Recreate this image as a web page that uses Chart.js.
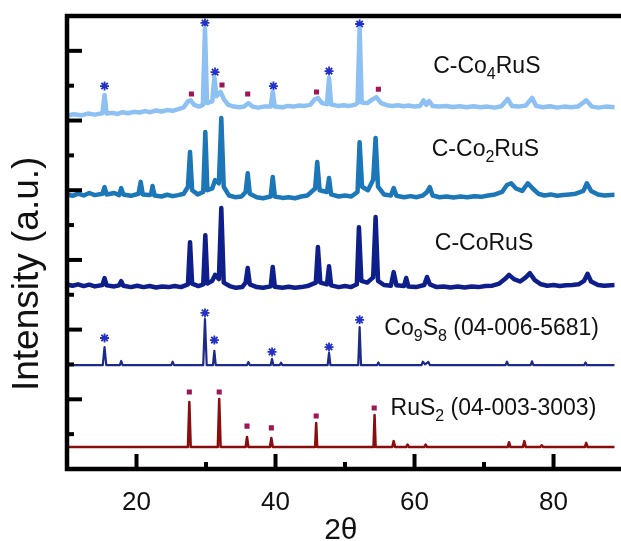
<!DOCTYPE html>
<html>
<head>
<meta charset="utf-8">
<script src="https://cdn.jsdelivr.net/npm/chart.js@4.4.1/dist/chart.umd.min.js"></script>
<style>
  html, body { margin: 0; padding: 0; background: #fff; }
  canvas { display: block; }
</style>
</head>
<body>
<canvas id="xrd" width="621" height="541"></canvas>
<script>
// 2theta / intensity pairs
const co4RuS = [[10,10.14],[11,10.18],[12,10.15],[13,10.2],[14,10.17],[15.1,10.21],[15.4,10.73],[15.7,10.2],[16.5,10.22],[17.3,10.19],[18,10.24],[18.8,10.21],[19.6,10.25],[20.4,10.23],[21.2,10.27],[22,10.24],[22.8,10.29],[23.6,10.26],[24.4,10.3],[25.2,10.28],[26,10.33],[26.8,10.38],[27.4,10.55],[27.8,10.58],[28.3,10.45],[29,10.4],[29.55,10.45],[29.85,12.65],[30.15,10.5],[30.9,10.55],[31.2,11.25],[31.5,10.7],[32.1,10.82],[32.6,10.6],[33.2,10.45],[34,10.4],[34.8,10.38],[35.5,10.4],[36.1,10.5],[36.7,10.4],[37.5,10.37],[38.3,10.4],[39.3,10.4],[39.6,10.82],[39.9,10.4],[41,10.38],[41.8,10.42],[42.6,10.4],[43.4,10.43],[44.2,10.42],[45,10.45],[45.6,10.6],[46.1,10.65],[46.7,10.5],[47.4,10.47],[47.7,11.22],[48.0,10.46],[49,10.42],[49.8,10.44],[50.6,10.42],[51.4,10.45],[51.8,10.5],[52.1,12.65],[52.4,10.52],[53.2,10.5],[53.9,10.6],[54.5,10.67],[55.2,10.5],[56,10.44],[56.8,10.42],[57.6,10.44],[58.4,10.41],[59.2,10.43],[60,10.4],[60.8,10.42],[61.3,10.58],[61.7,10.45],[62.1,10.56],[62.6,10.42],[63.5,10.4],[64.5,10.42],[65.5,10.39],[66.5,10.41],[67.5,10.38],[68.5,10.41],[69.5,10.38],[70.5,10.4],[71.5,10.37],[72.5,10.41],[73.4,10.62],[74,10.42],[75,10.4],[76,10.43],[76.9,10.65],[77.5,10.42],[78.5,10.38],[79.5,10.41],[80.5,10.37],[81.5,10.4],[82.5,10.38],[83.5,10.4],[84.7,10.58],[85.5,10.4],[86.5,10.37],[87.5,10.4],[88.8,10.38]];

const co2RuS = [[10,7.88],[10.8,7.84],[11.6,7.9],[12.4,7.85],[13.2,7.92],[14,7.86],[15.1,7.9],[15.4,8.09],[15.7,7.88],[16.8,7.92],[17.5,7.86],[17.8,8.06],[18.1,7.88],[19.2,7.84],[20.3,7.9],[20.6,8.24],[20.9,7.88],[21.8,7.86],[22.1,7.88],[22.3,8.12],[22.6,7.85],[23.6,7.82],[24.4,7.87],[25.2,7.83],[26,7.86],[26.8,7.9],[27.4,8.1],[27.7,9.1],[28.0,8.0],[28.8,7.88],[29.6,7.95],[29.9,9.67],[30.2,8.0],[30.9,8.05],[31.3,8.29],[31.85,8.2],[32.2,10.07],[32.55,8.1],[33.3,7.85],[34.2,7.8],[35.1,7.82],[35.7,7.95],[36.0,8.49],[36.3,7.9],[37.3,7.8],[38.2,7.77],[39.3,7.82],[39.6,8.38],[39.9,7.82],[41,7.78],[41.9,7.8],[42.8,7.77],[43.7,7.82],[44.6,7.85],[45.7,8.05],[46,8.81],[46.35,8.0],[47.4,7.95],[47.7,8.35],[48.0,7.88],[49.1,7.82],[50,7.85],[50.9,7.82],[51.8,7.95],[52.1,9.38],[52.45,8.1],[53.3,8.0],[54.05,8.3],[54.4,9.5],[54.75,8.1],[55.6,7.88],[56.6,7.85],[57,8.06],[57.4,7.84],[58.5,7.8],[59.4,7.83],[60.3,7.8],[61.2,7.85],[61.8,7.95],[62.2,8.09],[62.6,7.85],[63.6,7.8],[64.6,7.82],[65.6,7.79],[66.6,7.82],[67.6,7.8],[68.6,7.83],[69.6,7.81],[70.6,7.85],[71.6,7.88],[72.6,7.95],[73.3,8.15],[73.9,8.2],[74.6,8.05],[75.5,7.98],[76.3,8.2],[77,8.05],[77.8,7.9],[78.7,7.85],[79.6,7.88],[80.5,7.84],[81.4,7.86],[82.3,7.88],[83.2,7.9],[84.3,7.98],[84.8,8.2],[85.4,7.98],[86.4,7.88],[87.3,7.85],[88.8,7.87]];

const coRuS = [[10,5.3],[10.8,5.26],[11.6,5.3],[12.4,5.25],[13.2,5.29],[14,5.24],[15.1,5.28],[15.4,5.48],[15.7,5.27],[16.8,5.24],[17.5,5.27],[17.8,5.39],[18.1,5.26],[19.2,5.22],[20.1,5.26],[21,5.22],[21.9,5.25],[22.8,5.21],[23.7,5.24],[24.6,5.22],[25.5,5.25],[26.4,5.22],[27.4,5.3],[27.7,6.51],[28.0,5.32],[28.9,5.25],[29.6,5.3],[29.9,6.71],[30.2,5.32],[30.9,5.4],[31.3,5.57],[31.85,5.45],[32.2,7.49],[32.55,5.35],[33.4,5.25],[34.3,5.2],[35.2,5.22],[35.7,5.35],[36,5.77],[36.3,5.3],[37.3,5.22],[38.2,5.2],[39.3,5.24],[39.6,5.8],[39.9,5.23],[41,5.2],[41.9,5.23],[42.8,5.2],[43.7,5.22],[44.6,5.25],[45.8,5.35],[46.1,6.37],[46.45,5.35],[47.4,5.3],[47.7,5.82],[48.0,5.27],[49.1,5.22],[50,5.25],[50.9,5.22],[51.7,5.3],[52,6.94],[52.35,5.4],[53.2,5.35],[54.05,5.5],[54.4,7.23],[54.75,5.4],[55.6,5.28],[56.6,5.26],[57,5.65],[57.4,5.27],[58.5,5.25],[58.8,5.48],[59.1,5.24],[60.2,5.22],[61.4,5.28],[61.8,5.51],[62.2,5.3],[63.2,5.22],[64.2,5.24],[65.2,5.21],[66.2,5.24],[67.2,5.21],[68.2,5.24],[69.2,5.22],[70.2,5.25],[71.2,5.26],[72.2,5.32],[73,5.45],[73.6,5.57],[74.3,5.45],[75.2,5.38],[76,5.5],[76.6,5.62],[77.3,5.42],[78.2,5.3],[79.1,5.26],[80,5.28],[80.9,5.25],[81.8,5.27],[82.7,5.28],[83.6,5.3],[84.4,5.4],[84.9,5.6],[85.4,5.38],[86.4,5.28],[87.3,5.26],[88.8,5.28]];

const co9S8Ref = [[10,2.98],[15.15,2.98],[15.4,3.5],[15.65,2.98],[17.6,2.98],[17.8,3.1],[18.0,2.98],[25,2.98],[25.2,3.08],[25.4,2.98],[29.6,2.98],[29.85,4.3],[30.1,2.98],[31.0,2.98],[31.2,3.39],[31.4,2.98],[35.9,2.98],[36.1,3.07],[36.3,2.98],[39.3,2.98],[39.5,3.16],[39.7,2.98],[40.6,2.98],[40.8,3.05],[41,2.98],[47.5,2.98],[47.7,3.33],[47.9,2.98],[51.9,2.98],[52.1,4.07],[52.3,2.98],[54.6,2.98],[54.8,3.06],[55,2.98],[61,2.98],[61.2,3.08],[61.5,3.0],[62,3.07],[62.2,2.98],[73.1,2.98],[73.3,3.08],[73.5,2.98],[76.7,2.98],[76.9,3.09],[77.1,2.98],[84.4,2.98],[84.6,3.06],[84.8,2.98],[88.8,2.98]];

const rus2Ref = [[10,0.63],[27.4,0.63],[27.6,1.92],[27.8,0.63],[31.7,0.63],[31.9,2.01],[32.1,0.63],[35.7,0.63],[35.9,0.92],[36.1,0.63],[39.2,0.63],[39.4,0.89],[39.6,0.63],[45.7,0.63],[45.85,1.32],[46.0,0.63],[54.1,0.63],[54.25,1.55],[54.4,0.63],[56.8,0.63],[57.0,0.8],[57.2,0.63],[58.8,0.63],[59.0,0.7],[59.2,0.63],[61.4,0.63],[61.6,0.7],[61.8,0.63],[73.4,0.63],[73.6,0.77],[73.8,0.63],[75.6,0.63],[75.8,0.8],[76.0,0.63],[78.1,0.63],[78.3,0.68],[78.5,0.63],[84.5,0.63],[84.7,0.75],[84.9,0.63],[88.8,0.63]];

// phase markers (* = Co9S8, square = RuS2)
const co4Stars = [[15.4,10.99],[29.85,12.8],[31.3,11.39],[39.7,10.99],[47.7,11.42],[52.1,12.77]];
const co4Squares = [[27.9,10.76],[32.3,11.02],[36.0,10.76],[45.9,10.82],[54.8,10.9]];
const co9Stars = [[15.4,3.76],[29.85,4.48],[31.2,3.70],[39.5,3.36],[47.7,3.50],[52.1,4.28]];
const rusSquares = [[27.6,2.21],[31.9,2.21],[35.9,1.23],[39.4,1.18],[45.85,1.52],[54.2,1.75]];

const xTickValues = [20, 40, 60, 80];
const xMinorTicks = [30, 50, 70];
const yMajorTicks = [2, 4, 6, 8, 10, 12];
const yMinorTicks = [1, 3, 5, 7, 9, 11];

// trace labels: [x, y, parts]  (parts: [text, isSubscript])
const traceLabels = [
  [70.4, 11.6, [["C-Co", false], ["4", true], ["RuS", false]]],
  [70.2, 9.21, [["C-Co", false], ["2", true], ["RuS", false]]],
  [70.0, 6.51, [["C-CoRuS", false]]],
  [71.1, 4.07, [["Co", false], ["9", true], ["S", false], ["8", true], [" (04-006-5681)", false]]],
  [71.35, 1.78, [["RuS", false], ["2", true], [" (04-003-3003)", false]]]
];
const yTitle = "Intensity (a.u.)";

const FONT = "'Liberation Sans', Arial, sans-serif";

function toPoints(pairs) {
  return pairs.map(([x, y]) => ({ x, y }));
}

function lineSet(pairs, color, width) {
  return {
    type: "line",
    data: toPoints(pairs),
    borderColor: color,
    borderWidth: width,
    pointRadius: 0,
    tension: 0,
    borderJoinStyle: "round",
    fill: false
  };
}

function markerSet(pairs, style, color, radius) {
  return {
    type: "scatter",
    data: toPoints(pairs),
    pointStyle: style,
    pointRadius: radius,
    pointBorderWidth: style === "star" ? 1.8 : 0,
    pointBorderColor: color,
    pointBackgroundColor: color,
    showLine: false
  };
}

const framePlugin = {
  id: "frame",
  afterDatasetsDraw(chart) {
    const { ctx, chartArea } = chart;
    const xs = chart.scales.x;
    const ys = chart.scales.y;
    ctx.save();
    ctx.strokeStyle = "#000";
    ctx.lineWidth = 4.5;
    ctx.lineCap = "square";
    ctx.beginPath();
    ctx.moveTo(chartArea.right + 5, chartArea.top);
    ctx.lineTo(chartArea.left, chartArea.top);
    ctx.lineTo(chartArea.left, chartArea.bottom);
    ctx.lineTo(chartArea.right + 5, chartArea.bottom);
    ctx.stroke();

    ctx.lineWidth = 4;
    ctx.lineCap = "butt";
    const tick = (x1, y1, x2, y2) => {
      ctx.beginPath();
      ctx.moveTo(x1, y1);
      ctx.lineTo(x2, y2);
      ctx.stroke();
    };
    xTickValues.forEach((v) => {
      const px = xs.getPixelForValue(v);
      tick(px, chartArea.bottom, px, chartArea.bottom - 15);
    });
    xMinorTicks.forEach((v) => {
      const px = xs.getPixelForValue(v);
      tick(px, chartArea.bottom, px, chartArea.bottom - 7);
    });
    yMajorTicks.forEach((v) => {
      const py = ys.getPixelForValue(v);
      tick(chartArea.left, py, chartArea.left + 15, py);
    });
    yMinorTicks.forEach((v) => {
      const py = ys.getPixelForValue(v);
      tick(chartArea.left, py, chartArea.left + 7, py);
    });
    ctx.restore();
  },
  afterDraw(chart) {
    const { ctx } = chart;
    const xs = chart.scales.x;
    const ys = chart.scales.y;
    const mainFont = `23px ${FONT}`;
    const subFont = `16px ${FONT}`;
    ctx.save();
    ctx.fillStyle = "#111";
    ctx.textBaseline = "alphabetic";
    traceLabels.forEach(([xv, yv, parts]) => {
      let total = 0;
      parts.forEach(([t, sub]) => {
        ctx.font = sub ? subFont : mainFont;
        total += ctx.measureText(t).width;
      });
      let px = xs.getPixelForValue(xv) - total / 2;
      const base = ys.getPixelForValue(yv) + 8;
      parts.forEach(([t, sub]) => {
        ctx.font = sub ? subFont : mainFont;
        ctx.fillText(t, px, sub ? base + 6 : base);
        px += ctx.measureText(t).width;
      });
    });

    // y axis title, centred a little below the plot middle as in the figure
    ctx.translate(28, ys.getPixelForValue(5.6));
    ctx.rotate(-Math.PI / 2);
    ctx.font = `37px ${FONT}`;
    ctx.textAlign = "center";
    ctx.textBaseline = "middle";
    ctx.fillText(yTitle, 0, 0);
    ctx.restore();
  }
};

new Chart(document.getElementById("xrd"), {
  type: "scatter",
  data: {
    datasets: [
      lineSet(rus2Ref, "#8b0c0c", 2.5),
      lineSet(co9S8Ref, "#1c2a88", 2.2),
      lineSet(coRuS, "#0e1f8c", 4.5),
      lineSet(co2RuS, "#1b77b8", 4.5),
      lineSet(co4RuS, "#8ec1f3", 4.5),
      markerSet(co4Stars, "star", "#2330c8", 4.5),
      markerSet(co9Stars, "star", "#2330c8", 4.5),
      markerSet(co4Squares, "rect", "#a01458", 3.6),
      markerSet(rusSquares, "rect", "#a01458", 3.6)
    ]
  },
  options: {
    responsive: false,
    animation: false,
    layout: { padding: { top: 16, right: 0, left: 0, bottom: 0 } },
    plugins: {
      legend: { display: false },
      tooltip: { enabled: false }
    },
    scales: {
      x: {
        type: "linear",
        min: 10,
        max: 88.8,
        afterFit(scale) { scale.height = 72; },
        afterBuildTicks(scale) { scale.ticks = xTickValues.map((v) => ({ value: v })); },
        grid: { display: false, drawTicks: false },
        border: { display: false },
        ticks: {
          color: "#111",
          padding: 18,
          maxRotation: 0,
          font: { family: FONT, size: 26 }
        },
        title: {
          display: true,
          text: "2θ",
          color: "#111",
          padding: { top: 0, bottom: 0 },
          font: { family: FONT, size: 30, lineHeight: 0.7 }
        }
      },
      y: {
        type: "linear",
        min: 0,
        max: 13,
        afterFit(scale) { scale.width = 67; },
        grid: { display: false, drawTicks: false },
        border: { display: false },
        ticks: { display: false },
        title: { display: false }
      }
    }
  },
  plugins: [framePlugin]
});
</script>
</body>
</html>
